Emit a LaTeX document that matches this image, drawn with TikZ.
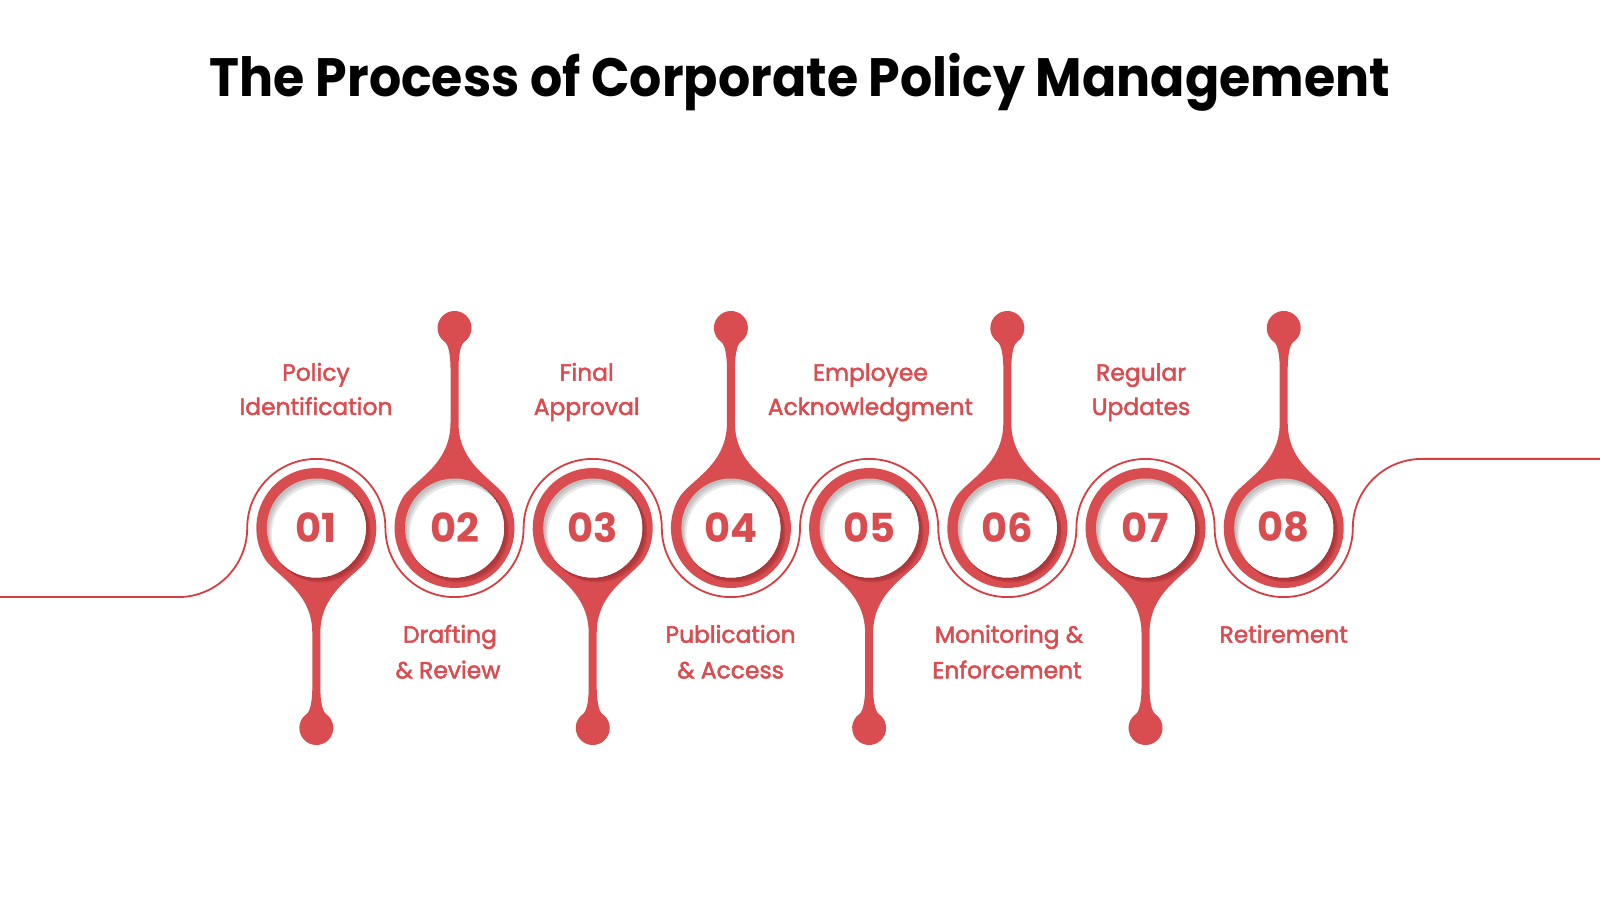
\documentclass[tikz,border=0pt]{standalone}
\usepackage{fontspec}
\setmainfont{Poppins}
\newfontfamily\lblfont{Poppins}[FakeBold=2]
\newfontfamily\ttlfont{Poppins}[FakeStretch=0.937]
\begin{document}
\begin{tikzpicture}[x=1pt,y=1pt]
\definecolor{pred}{RGB}{217,76,79}
\definecolor{lred}{RGB}{214,62,66}
\definecolor{sred}{RGB}{150,44,47}
\definecolor{gA}{RGB}{192,192,192}
\definecolor{gB}{RGB}{210,210,210}
\definecolor{gC}{RGB}{232,232,232}
\tikzset{
  ttl/.style={font=\ttlfont\bfseries\fontsize{54}{60}\selectfont, text=black, anchor=base, inner sep=0pt},
  lbl/.style={font=\lblfont\fontsize{23.4}{30}\selectfont, text=pred, anchor=base, inner sep=0pt},
  num/.style={font=\bfseries\fontsize{40}{44}\selectfont, text=pred, inner sep=0pt},
  ring/.style={draw=lred, line width=1.8pt},
}
\newcommand\droppath{(51.96,30) .. controls (42,47.3) and (4,62) .. (4,105) -- (4,160) .. controls (4,171) and (5.65,183.2) .. (9.75,186.07) arc[start angle=-55,end angle=235,radius=17] .. controls (-5.65,183.2) and (-4,171) .. (-4,160) -- (-4,105) .. controls (-4,62) and (-42,47.3) .. (-51.96,30) arc[start angle=150,end angle=390,radius=60] -- cycle}
\useasboundingbox (0,0) rectangle (1600,900);
\fill[white] (0,0) rectangle (1600,900);
% title
\node[ttl] (title) at (800,803.3) {The Process of Corporate Policy Management};
% snake line
\coordinate (snakeL) at (0,302.9);
\coordinate (snakeR) at (1600,441.1);
\draw[ring] (snakeL) -- (178.1,302.9)
  arc[start angle=270,end angle=360,radius=69.1]
  arc[start angle=180,end angle=0,radius=69.1]
  arc[start angle=180,end angle=360,radius=69.1]
  arc[start angle=180,end angle=0,radius=69.1]
  arc[start angle=180,end angle=360,radius=69.1]
  arc[start angle=180,end angle=0,radius=69.1]
  arc[start angle=180,end angle=360,radius=69.1]
  arc[start angle=180,end angle=0,radius=69.1]
  arc[start angle=180,end angle=360,radius=69.1]
  arc[start angle=180,end angle=90,radius=69.1] -- (snakeR);
% steps
\foreach \i/\s/\t in {1/-1/01,2/1/02,3/-1/03,4/1/04,5/-1/05,6/1/06,7/-1/07,8/1/08}{
  \pgfmathsetmacro\cx{316.3+138.2*(\i-1)}
  \begin{scope}[shift={(\cx,372)}]
    \begin{scope}[yscale=\s]
      \fill[pred] \droppath;
    \end{scope}
    \begin{scope}
      \clip (0,0) circle (60);
      \fill[sred, opacity=0.30] (1.5,-1.5) circle (50.5);
      \fill[sred, opacity=0.30] (3,-3) circle (50.5);
      \fill[sred, opacity=0.25] (4.5,-4.5) circle (50);
    \end{scope}
    \begin{scope}
      \clip (0,0) circle (49.5);
      \fill[gA] (0,0) circle (49.5);
      \fill[gB] (2,-2.5) circle (49.5);
      \fill[gC] (3.5,-4.5) circle (49.5);
      \fill[white] (5,-6.5) circle (49.5);
    \end{scope}
  \end{scope}
  \node[num] (n\t) at (\cx,372.8) {\t};
}
% labels above
\node[lbl] (l1a) at (316,519.3) {Policy};
\node[lbl] (l1b) at (316,485) {Identification};
\node[lbl] (l3a) at (586.7,519.3) {Final};
\node[lbl] (l3b) at (586.7,485) {Approval};
\node[lbl] (l5a) at (870.4,519.3) {Employee};
\node[lbl] (l5b) at (870.4,485) {Acknowledgment};
\node[lbl] (l7a) at (1141,519.3) {Regular};
\node[lbl] (l7b) at (1141,485) {Updates};
% labels below
\node[lbl] (l2a) at (450,257.3) {Drafting};
\node[lbl] (l2b) at (448,221.6) {\& Review};
\node[lbl] (l4a) at (730.6,257.3) {Publication};
\node[lbl] (l4b) at (730.6,221.6) {\& Access};
\node[lbl] (l6a) at (1009,257.3) {Monitoring \&};
\node[lbl] (l6b) at (1007,221.6) {Enforcement};
\node[lbl] (l8a) at (1283.7,257.3) {Retirement};
\end{tikzpicture}
\end{document}
